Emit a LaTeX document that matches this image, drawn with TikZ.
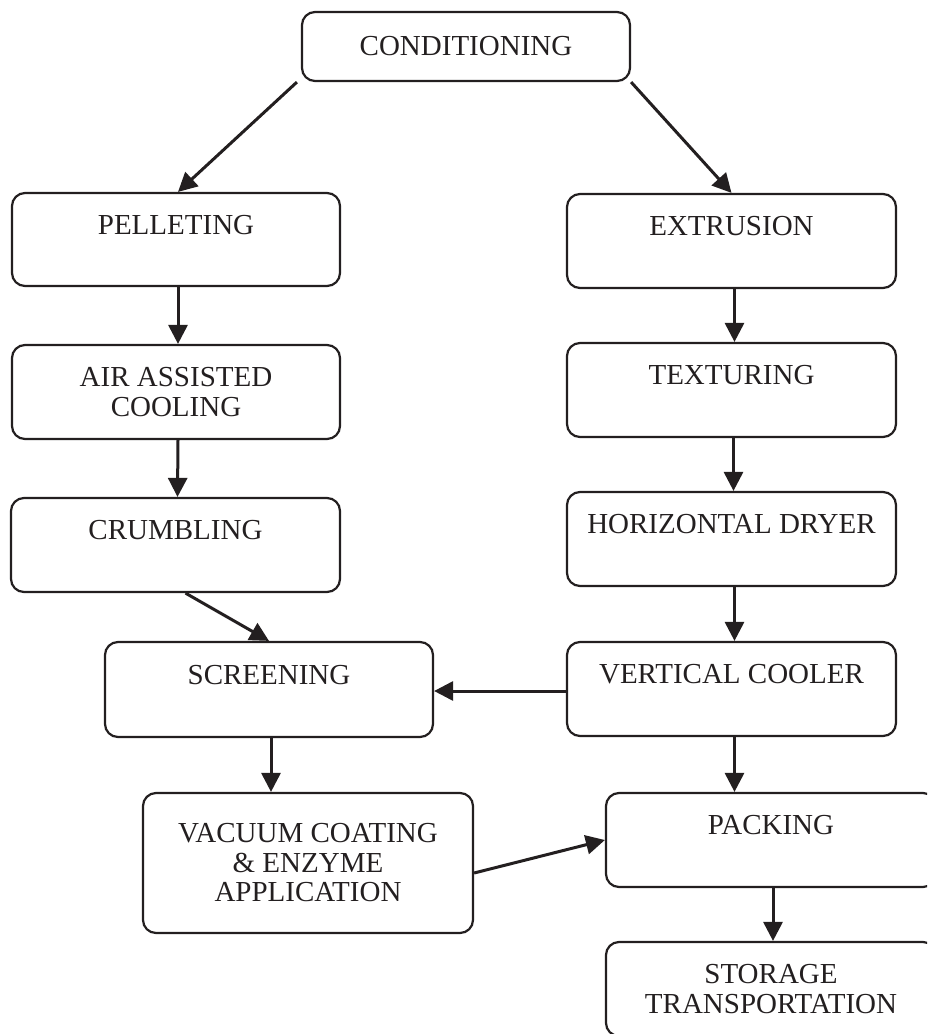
\documentclass[tikz,border=0pt]{standalone}
\usepackage{fontspec}
\setmainfont{Liberation Serif}
\usepackage{color}
\usepackage{tikz}
\usetikzlibrary{arrows.meta}
\definecolor{ink}{RGB}{35,31,32}

\begin{document}
\begin{tikzpicture}[x=0.5pt, y=-0.5pt,
    box/.style={draw=ink, text=ink, line width=1.1pt, rounded corners=6.5pt, align=center, inner sep=0pt,
        font=\fontsize{14.5pt}{14.75pt}\selectfont},
    arr/.style={draw=ink, line width=1.5pt, -{Triangle[length=9.5pt,width=9.5pt]}}]
    \useasboundingbox (0,0) rectangle (927,1034);
    \clip (0,0) rectangle (927,1034);
    \node [box, minimum width=164pt, minimum height=34.5pt] (cond) at (466, 46.5) {CONDITIONING};
    \node [box, minimum width=164pt, minimum height=46.5pt] (pel) at (176, 239.5) {PELLETING\\~};
    \node [box, minimum width=164.5pt, minimum height=47pt] (ext) at (731.5, 241) {EXTRUSION\\~};
    \node [box, minimum width=164pt, minimum height=47pt] (air) at (176, 392) {AIR ASSISTED\\COOLING};
    \node [box, minimum width=164.5pt, minimum height=47pt] (tex) at (731.5, 390) {TEXTURING\\~};
    \node [box, minimum width=164.5pt, minimum height=47pt] (crum) at (175.5, 545) {CRUMBLING\\~};
    \node [box, minimum width=164.5pt, minimum height=47pt] (dry) at (731.5, 539) {HORIZONTAL DRYER\\~};
    \node [box, minimum width=164pt, minimum height=47.5pt] (scr) at (269, 689.5) {SCREENING\\~};
    \node [box, minimum width=164.5pt, minimum height=47pt] (cool) at (731.5, 689) {VERTICAL COOLER\\~};
    \node [box, minimum width=165pt, minimum height=70pt] (vac) at (308, 863) {VACUUM COATING\\\& ENZYME\\APPLICATION};
    \node [box, minimum width=165pt, minimum height=47pt] (pack) at (771, 840) {PACKING\\~};
    \node [box, minimum width=165pt, minimum height=47pt] (sto) at (771, 989) {STORAGE\\TRANSPORTATION};

    \draw [arr] ([xshift=-2pt]cond.south west) -- ([xshift=1pt]pel.north);
    \draw [arr] (cond.south east) -- (ext.north);
    \draw [arr] ([xshift=1pt]pel.south) -- ([xshift=1pt]air.north);
    \draw [arr] ([xshift=1pt]air.south) -- ([xshift=1pt]crum.north);
    \draw [arr] ([xshift=5pt]crum.south) -- (scr.north);
    \draw [arr] ([xshift=1.5pt]ext.south) -- ([xshift=1.5pt]tex.north);
    \draw [arr] ([xshift=1pt]tex.south) -- ([xshift=1pt]dry.north);
    \draw [arr] ([xshift=1.5pt]dry.south) -- ([xshift=1.5pt]cool.north);
    \draw [arr] ([yshift=-1pt]cool.west) -- ([yshift=-1pt]cool.west -| scr.east);
    \draw [arr] ([xshift=1pt]scr.south) -- ([xshift=1pt]scr.south |- vac.north);
    \draw [arr] ([xshift=1.5pt]cool.south) -- ([xshift=1.5pt]cool.south |- pack.north);
    \draw [arr] ([yshift=-5pt]vac.east) -- (pack.west);
    \draw [arr] ([xshift=1pt]pack.south) -- ([xshift=1pt]sto.north);
\end{tikzpicture}
\end{document}
